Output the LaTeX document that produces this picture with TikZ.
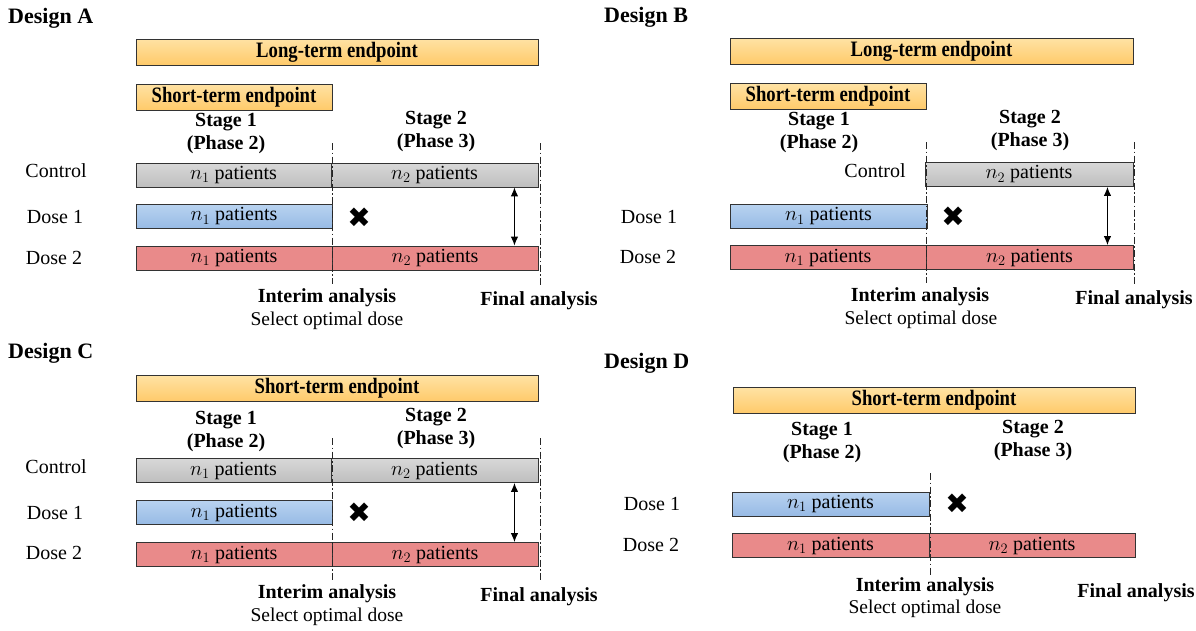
\documentclass[tikz,border=0pt]{standalone}
\usepackage{fontspec}
\setmainfont{Liberation Serif}
\newfontfamily\symfont{DejaVu Sans}
\usetikzlibrary{arrows.meta}
\definecolor{orangeA}{HTML}{FFE2A3}
\definecolor{orangeB}{HTML}{FFCA6A}
\definecolor{grayA}{HTML}{D8D8D8}
\definecolor{grayB}{HTML}{BEBEBE}
\definecolor{blueA}{HTML}{B8D2F0}
\definecolor{blueB}{HTML}{97BAE5}
\definecolor{redbar}{HTML}{E98A8A}
\newcommand\txtbody{\rmfamily\mdseries\fontsize{20}{23}\selectfont}
\newcommand\txtsel{\rmfamily\mdseries\fontsize{19.5}{22}\selectfont}
\newcommand\txtbold{\rmfamily\fontsize{20}{23}\selectfont\bfseries}
\newcommand\txthead{\rmfamily\fontsize{22}{25}\selectfont\bfseries}
\newcommand\txttitle{\rmfamily\fontsize{22}{25}\selectfont\bfseries}
\newcommand\hd[1]{\scalebox{0.85}[1]{#1}}
\newcommand\pat[1]{$n_{#1}$ \rmfamily patients}
\tikzset{
  bar/.style={draw=black!80, line width=0.9pt, minimum height=24pt, inner sep=0pt, font=\txtbody},
  ctrl/.style={bar, top color=grayA, bottom color=grayB},
  doseone/.style={bar, top color=blueA, bottom color=blueB},
  dosetwo/.style={bar, fill=redbar},
  endp/.style={bar, top color=orangeA, bottom color=orangeB, minimum height=26pt, font=\txthead},
  lab/.style={font=\txtbody, inner sep=0pt},
  sellab/.style={font=\txtsel, inner sep=0pt},
  boldlab/.style={font=\txtbold, inner sep=0pt},
  stagelab/.style={font=\txtbold, align=center, inner sep=0pt},
  titlelab/.style={font=\txttitle, inner sep=0pt, anchor=west},
  cross/.style={font=\symfont\fontsize{28}{28}\selectfont, inner sep=0pt},
  dd/.style={draw=black!85, line width=0.9pt, dash pattern=on 7pt off 2.5pt on 1.5pt off 2.5pt},
  arr/.style={line width=1pt, {Latex[length=9pt,width=7.5pt]}-{Latex[length=9pt,width=7.5pt]}}
}
\begin{document}
\begin{tikzpicture}[x=1pt,y=-1pt]
\useasboundingbox (0,0) rectangle (1196,630);

% ---------------- Design A ----------------
\node[titlelab] (Atitle) at (8,18) {Design A};
\node[endp, minimum width=402pt] (Along) at (337,52) {\hd{Long-term endpoint}};
\node[endp, minimum width=196pt] (Ashort) at (234,97) {\hd{Short-term endpoint}};
\node[stagelab] (As1) at (226,134) {Stage 1\\(Phase 2)};
\node[stagelab] (As2) at (436,132) {Stage 2\\(Phase 3)};
\node[lab] (Actl) at (56,171) {Control};
\node[ctrl, minimum width=195pt] (Ac1) at (233.5,175) {\pat{1}};
\node[ctrl, minimum width=207pt] (Ac2) at (434.5,175) {\pat{2}};
\node[lab] (Ad1l) at (55,217) {Dose 1};
\node[doseone, minimum width=196pt] (Ad1) at (234,216.5) {\pat{1}};
\node[cross] (Ax) at (359,218) {✖};
\node[lab] (Ad2l) at (54,258) {Dose 2};
\node[dosetwo, minimum width=196pt] (Ad21) at (234,258) {\pat{1}};
\node[dosetwo, minimum width=206pt] (Ad22) at (435,258) {\pat{2}};
\coordinate (Aia) at (332,143); \coordinate (Aib) at (332,284);
\coordinate (Afa) at (540,143); \coordinate (Afb) at (540,285);
\draw[dd] (Aia) -- (Aib);
\draw[dd] (Afa) -- (Afb);
\draw[arr] ([xshift=-24pt]Ac2.south east) -- ([xshift=-24pt]Ad22.north east);
\node[boldlab] (Aint) at (327,298) {Interim analysis};
\node[sellab] (Asel) at (327,321) {Select optimal dose};
\node[boldlab] (Afin) at (539,301) {Final analysis};

% ---------------- Design B ----------------
\node[titlelab] (Btitle) at (604,17) {Design B};
\node[endp, minimum width=403pt] (Blong) at (931.5,51.5) {\hd{Long-term endpoint}};
\node[endp, minimum width=196pt] (Bshort) at (828,96.5) {\hd{Short-term endpoint}};
\node[stagelab] (Bs1) at (819,133) {Stage 1\\(Phase 2)};
\node[stagelab] (Bs2) at (1030,131) {Stage 2\\(Phase 3)};
\node[lab] (Bctl) at (875,171) {Control};
\node[ctrl, minimum width=208pt] (Bc2) at (1029,174.5) {\pat{2}};
\node[lab] (Bd1l) at (649,217) {Dose 1};
\node[doseone, minimum width=197pt] (Bd1) at (828.5,216.5) {\pat{1}};
\node[cross] (Bx) at (953,217) {✖};
\node[lab] (Bd2l) at (648,257) {Dose 2};
\node[dosetwo, minimum width=196pt] (Bd21) at (828,257.5) {\pat{1}};
\node[dosetwo, minimum width=207pt] (Bd22) at (1029.5,257.5) {\pat{2}};
\coordinate (Bia) at (926,142); \coordinate (Bib) at (926,283);
\coordinate (Bfa) at (1134,142); \coordinate (Bfb) at (1134,284);
\draw[dd] (Bia) -- (Bib);
\draw[dd] (Bfa) -- (Bfb);
\draw[arr] ([xshift=-26pt]Bc2.south east) -- ([xshift=-26pt]Bd22.north east);
\node[boldlab] (Bint) at (920,297) {Interim analysis};
\node[sellab] (Bsel) at (921,320) {Select optimal dose};
\node[boldlab] (Bfin) at (1134,300) {Final analysis};

% ---------------- Design C ----------------
\node[titlelab] (Ctitle) at (8,353) {Design C};
\node[endp, minimum width=402pt] (Cshort) at (337,388.5) {\hd{Short-term endpoint}};
\node[stagelab] (Cs1) at (226,431.5) {Stage 1\\(Phase 2)};
\node[stagelab] (Cs2) at (436,428.5) {Stage 2\\(Phase 3)};
\node[lab] (Cctl) at (56,467) {Control};
\node[ctrl, minimum width=195pt] (Cc1) at (233.5,470.5) {\pat{1}};
\node[ctrl, minimum width=207pt] (Cc2) at (434.5,470.5) {\pat{2}};
\node[lab] (Cd1l) at (55,513) {Dose 1};
\node[doseone, minimum width=196pt] (Cd1) at (234,512.5) {\pat{1}};
\node[cross] (Cx) at (359,513) {✖};
\node[lab] (Cd2l) at (54,553) {Dose 2};
\node[dosetwo, minimum width=196pt] (Cd21) at (234,554.5) {\pat{1}};
\node[dosetwo, minimum width=206pt] (Cd22) at (435,554.5) {\pat{2}};
\coordinate (Cia) at (332,438); \coordinate (Cib) at (332,580);
\coordinate (Cfa) at (540,438); \coordinate (Cfb) at (540,581);
\draw[dd] (Cia) -- (Cib);
\draw[dd] (Cfa) -- (Cfb);
\draw[arr] ([xshift=-24pt]Cc2.south east) -- ([xshift=-24pt]Cd22.north east);
\node[boldlab] (Cint) at (327,594) {Interim analysis};
\node[sellab] (Csel) at (327,617) {Select optimal dose};
\node[boldlab] (Cfin) at (539,597) {Final analysis};

% ---------------- Design D ----------------
\node[titlelab] (Dtitle) at (604,363) {Design D};
\node[endp, minimum width=402pt] (Dshort) at (934,400.5) {\hd{Short-term endpoint}};
\node[stagelab] (Ds1) at (822,442) {Stage 1\\(Phase 2)};
\node[stagelab] (Ds2) at (1033,440) {Stage 2\\(Phase 3)};
\node[lab] (Dd1l) at (652,504) {Dose 1};
\node[doseone, minimum width=197pt] (Dd1) at (830.5,504) {\pat{1}};
\node[cross] (Dx) at (957,504) {✖};
\node[lab] (Dd2l) at (651,545) {Dose 2};
\node[dosetwo, minimum width=197pt] (Dd21) at (830.5,545.5) {\pat{1}};
\node[dosetwo, minimum width=206pt] (Dd22) at (1032,545.5) {\pat{2}};
\coordinate (Dia) at (930,473); \coordinate (Dib) at (930,576);
\draw[dd] (Dia) -- (Dib);
\node[boldlab] (Dint) at (925,587) {Interim analysis};
\node[sellab] (Dsel) at (925,609) {Select optimal dose};
\node[boldlab] (Dfin) at (1136,593) {Final analysis};
\end{tikzpicture}
\end{document}
